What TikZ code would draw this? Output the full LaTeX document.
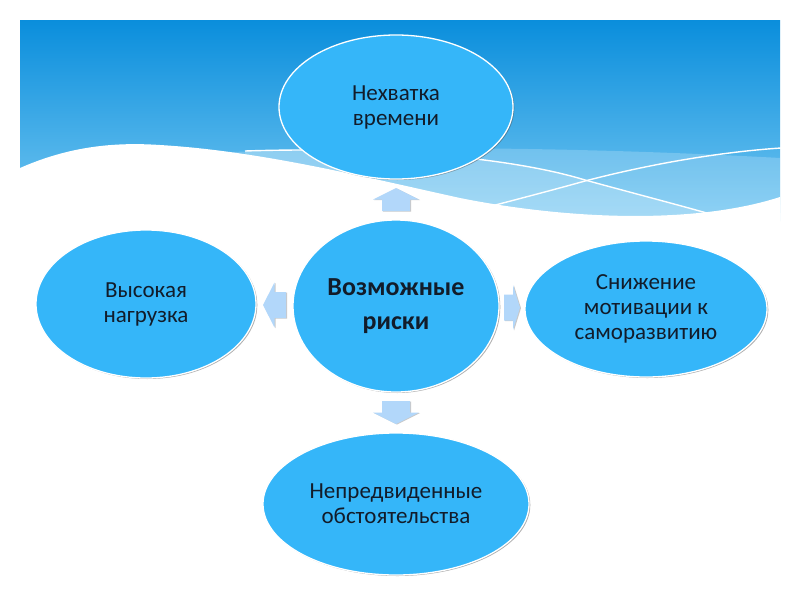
\documentclass[tikz,border=0pt]{standalone}
\usepackage{fontspec}
\setmainfont{Carlito}
\usetikzlibrary{shapes.geometric,shadows,calc}
\definecolor{ellfill}{RGB}{53,182,249}
\definecolor{arrfill}{RGB}{178,215,250}
\definecolor{txt}{RGB}{18,28,42}
\definecolor{hdrtop}{RGB}{10,142,220}
\definecolor{hdrbot}{RGB}{118,200,242}
\begin{document}
\begin{tikzpicture}[x=1pt,y=-1pt,
  ell/.style={ellipse, fill=ellfill, draw=white, line width=1.3pt, inner sep=0pt,
    align=center, text=txt, font=\fontsize{23}{25}\selectfont,
    drop shadow={shadow xshift=1.3pt, shadow yshift=-1pt, opacity=0.45, fill=black!70}},
  arr/.style={fill=arrfill, draw=none,
    drop shadow={shadow xshift=1pt, shadow yshift=-0.6pt, opacity=0.35, fill=black!60}},
  band/.style={fill=white, opacity=0.2},
  wline/.style={draw=white, line width=1.4pt}]
\useasboundingbox (0,0) rectangle (800,600);
\fill[white] (0,0) rectangle (800,600);
% header
\fill[top color=hdrtop, bottom color=hdrbot] (20,20) rectangle (780,225);
\fill[band] (233,152) .. controls (400,145) and (600,148) .. (780,158) -- (780,225) -- (233,225) -- cycle;
\fill[band] (245,151) .. controls (400,146) and (520,160) .. (585,180) .. controls (640,195) and (690,208) .. (717,216) -- (780,225) -- (245,225) -- cycle;
\draw[wline] (245,151) .. controls (400,146) and (520,160) .. (585,180) .. controls (640,195) and (690,208) .. (717,216);
\draw[wline] (480,209) .. controls (530,196) and (560,188) .. (585,181) .. controls (650,164) and (720,152) .. (781,148);
\fill[white] (20,168) .. controls (70,146) and (115,142) .. (160,145) .. controls (260,151) and (360,176) .. (460,198) .. controls (560,218) and (690,226) .. (780,197) -- (781,230) -- (19,230) -- cycle;
% ellipses
\node[ell, minimum width=234pt, minimum height=144pt] (t) at (396,107) {Нехватка\\времени};
\node[ell, minimum width=206pt, minimum height=172pt, font=\bfseries\fontsize{26}{34}\selectfont] (c) at (396,306) {Возможные\\риски};
\node[ell, minimum width=220pt, minimum height=148pt] (l) at (146,304) {Высокая\\нагрузка};
\node[ell, minimum width=242pt, minimum height=136pt] (r) at (646,309) {Снижение\\мотивации к\\саморазвитию};
\node[ell, minimum width=266pt, minimum height=142pt] (b) at (396,504) {Непредвиденные\\обстоятельства};
% block arrows
\coordinate (mu) at ($(c.north)!0.5!(t.south)$);
\coordinate (md) at ($(c.south)!0.5!(b.north)$);
\coordinate (ml) at ($(c.west)!0.5!(l.east)$);
\coordinate (mr) at ($(c.east)!0.5!(r.west)$);
\path[arr, shift={(mu)}] (0,-11.5) -- (23,0) -- (14,0) -- (14,11.5) -- (-14,11.5) -- (-14,0) -- (-23,0) -- cycle;
\path[arr, shift={(md)}, rotate=180] (0,-11.5) -- (23,0) -- (14,0) -- (14,11.5) -- (-14,11.5) -- (-14,0) -- (-23,0) -- cycle;
\path[arr, shift={(ml)}, rotate=90] (0,-11.5) -- (22.5,0) -- (13,0) -- (13,11.5) -- (-13,11.5) -- (-13,0) -- (-22.5,0) -- cycle;
\path[arr, shift={(mr)}, rotate=-90] (0,-8) -- (22.5,-1) -- (13,-1) -- (13,8) -- (-13,8) -- (-13,-1) -- (-22.5,-1) -- cycle;
\end{tikzpicture}
\end{document}
